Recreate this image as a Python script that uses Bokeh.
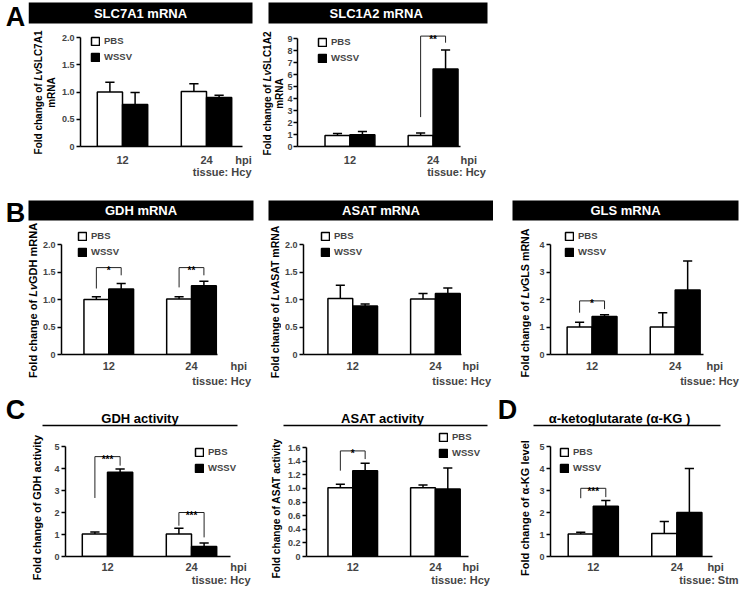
import math
from bokeh.plotting import figure
from bokeh.layouts import row, column
from bokeh.models import Range1d, FixedTicker, Legend, LegendItem, Label, LinearAxis
from bokeh.embed import file_html
from bokeh.resources import INLINE
from bokeh.core.properties import value

FONT = "Liberation Sans"

# ---------------- data ----------------
hpi_groups = ["12", "24"]
group_pos = [1, 2]
series_names = ["PBS", "WSSV"]

# A  SLC7A1 mRNA
slc7a1_pbs = [1.00, 1.01]
slc7a1_pbs_err = [0.18, 0.14]
slc7a1_wssv = [0.77, 0.90]
slc7a1_wssv_err = [0.22, 0.04]
slc7a1_sig = []

# A  SLC1A2 mRNA
slc1a2_pbs = [0.92, 0.92]
slc1a2_pbs_err = [0.17, 0.20]
slc1a2_wssv = [0.97, 6.45]
slc1a2_wssv_err = [0.27, 1.60]
# (group index, bracket top, left leg end, right leg end, stars)
slc1a2_sig = [(1, 9.2, 2.45, 8.65, "**")]

# B  GDH mRNA
gdh_pbs = [1.00, 1.01]
gdh_pbs_err = [0.05, 0.04]
gdh_wssv = [1.19, 1.25]
gdh_wssv_err = [0.10, 0.08]
gdh_sig = [(0, 1.58, 1.20, 1.44, "*"), (1, 1.58, 1.22, 1.44, "**")]

# B  ASAT mRNA
asat_pbs = [1.02, 1.01]
asat_pbs_err = [0.24, 0.10]
asat_wssv = [0.88, 1.11]
asat_wssv_err = [0.04, 0.10]
asat_sig = []

# B  GLS mRNA
gls_pbs = [1.00, 1.00]
gls_pbs_err = [0.17, 0.52]
gls_wssv = [1.38, 2.35]
gls_wssv_err = [0.07, 1.05]
gls_sig = [(0, 1.95, 1.52, 1.65, "*")]

# C  GDH activity
gdhact_pbs = [1.02, 1.02]
gdhact_pbs_err = [0.09, 0.26]
gdhact_wssv = [3.83, 0.46]
gdhact_wssv_err = [0.15, 0.15]
gdhact_sig = [(0, 4.54, 2.66, 4.13, "***"), (1, 2.00, 1.40, 0.87, "***")]

# C  ASAT activity
asatact_pbs = [1.01, 1.01]
asatact_pbs_err = [0.05, 0.04]
asatact_wssv = [1.26, 0.99]
asatact_wssv_err = [0.11, 0.31]
asatact_sig = [(0, 1.55, 1.26, 1.43, "*")]

# D  alpha-KG level
akg_pbs = [1.02, 1.04]
akg_pbs_err = [0.08, 0.55]
akg_wssv = [2.28, 2.00]
akg_wssv_err = [0.26, 2.00]
akg_sig = [(0, 3.10, 2.65, 2.70, "***")]

ticks_2 = [0, 0.5, 1.0, 1.5, 2.0]
ticks_2_labels = ["0", "0.5", "1.0", "1.5", "2.0"]
ticks_9 = [0, 1, 2, 3, 4, 5, 6, 7, 8, 9]
ticks_9_labels = ["0", "1", "2", "3", "4", "5", "6", "7", "8", "9"]
ticks_4 = [0, 1, 2, 3, 4]
ticks_4_labels = ["0", "1", "2", "3", "4"]
ticks_5 = [0, 1, 2, 3, 4, 5]
ticks_5_labels = ["0", "1", "2", "3", "4", "5"]
ticks_16 = [0, 0.2, 0.4, 0.6, 0.8, 1.0, 1.2, 1.4, 1.6]
ticks_16_labels = ["0", "0.2", "0.4", "0.6", "0.8", "1.0", "1.2", "1.4", "1.6"]

# ---------------- style helpers ----------------
BAR_W = 0.3
CAP = 0.055
K = 84.0  # pixels per group step

# Liberation Sans (Arial-metric) bold advance widths, 1/1000 em
AW = {' ': 278, '-': 333, ':': 333, '(': 333, ')': 333,
      'A': 722, 'C': 722, 'D': 722, 'F': 611, 'G': 778, 'H': 722, 'K': 722, 'L': 611,
      'N': 722, 'R': 722, 'S': 667, 'T': 611,
      'a': 556, 'c': 556, 'd': 611, 'e': 556, 'f': 333, 'g': 611, 'h': 611, 'i': 278,
      'l': 278, 'm': 889, 'n': 611, 'o': 611, 's': 556, 't': 333, 'u': 611, 'v': 556,
      'y': 556, 'α': 617}


def text_w(s, size):
    return sum(AW.get(ch, 556) for ch in s) * size / 1000.0


def noalign(f):
    if "frame_align" in f.properties():
        f.frame_align = False
    return f


def bare(w, h, flip=True):
    yr = Range1d(h, 0) if flip else Range1d(0, h)
    f = figure(width=w, height=h, x_range=Range1d(0, w), y_range=yr,
               toolbar_location=None, output_backend="svg", min_border=0,
               x_axis_location=None, y_axis_location=None)
    f.grid.visible = False
    f.outline_line_color = None
    f.background_fill_color = "white"
    f.border_fill_color = "white"
    return noalign(f)


def letter_fig(w, h, ch, x, y):
    f = bare(w, h)
    f.text(x=[x], y=[y], text=[ch], text_align="center", text_baseline="middle",
           text_font=value(FONT), text_font_style="bold", text_font_size="27px",
           text_color="black")
    return f


def header_fig(w, h, x0, x1, title, ty, bar=None, line_y=None, letter=None, tx=None):
    f = bare(w, h)
    if tx is None:
        tx = (x0 + x1) / 2.0
    if bar is not None:
        f.quad(left=[x0], right=[x1], top=[bar[0]], bottom=[bar[1]], fill_color="black",
               line_color=None)
        col = "white"
    else:
        f.segment(x0=[x0], x1=[x1], y0=[line_y], y1=[line_y], line_color="black",
                  line_width=1.5)
        col = "black"
    f.text(x=[tx], y=[ty], text=[title], text_align="center", text_baseline="middle",
           text_font=value(FONT), text_font_style="bold", text_font_size="13px",
           text_color=col)
    if letter is not None:
        lx, ly, ch = letter
        f.text(x=[lx], y=[ly], text=[ch], text_align="center", text_baseline="middle",
               text_font=value(FONT), text_font_style="bold", text_font_size="27px",
               text_color="black")
    return f


def ylab_fig(w, h, lines, size):
    # rotated y-axis title; lines = [(x centre, y centre (from bottom), [(text, style)])]
    f = bare(w, h, flip=False)
    for xc, yc, parts in lines:
        total = sum(text_w(t, size) for t, _ in parts)
        y = yc - total / 2.0
        for t, style in parts:
            f.text(x=[xc], y=[y], text=[t], angle=math.pi / 2, text_align="left",
                   text_baseline="middle", text_font=value(FONT), text_font_style=style,
                   text_font_size=f"{size}px", text_color="black")
            y += text_w(t, size)
    return f


def make_panel(box, px, ymax, pbs, pbs_err, wssv, wssv_err, sig, yticks, ylabels,
               legend_loc, tick_standoff, hpi_px, tissue_right, tissue_text, s2, s3):
    # box: figure left, right, top, bottom (page px)
    # px : axis x, first group centre, axis end, frame right, frame top, y of ymax, y of 0
    FL, FR, FT, FB = box
    L, c1, E, R, T, Ym, Y0 = px
    x_start = 1 - (c1 - L) / K
    x_end = x_start + (R - L) / K
    x_bound = 1 + (E - c1) / K
    y_end = ymax * (Y0 - T) / (Y0 - Ym)

    p = figure(width=FR - FL, height=FB - FT, x_range=Range1d(x_start, x_end),
               y_range=Range1d(0, y_end), toolbar_location=None, output_backend="svg",
               min_border_left=L - FL, min_border_right=FR - R,
               min_border_top=T - FT, min_border_bottom=FB - Y0)
    noalign(p)
    p.grid.visible = False
    p.outline_line_color = None
    p.background_fill_color = "white"
    p.border_fill_color = "white"

    xp = [g - BAR_W / 2 for g in group_pos]
    xw = [g + BAR_W / 2 for g in group_pos]
    r1 = p.vbar(x=xp, top=pbs, width=BAR_W, fill_color="white", line_color="black",
                line_width=1.5)
    r2 = p.vbar(x=xw, top=wssv, width=BAR_W, fill_color="black", line_color="black",
                line_width=1.5)
    for xs, vals, errs in ((xp, pbs, pbs_err), (xw, wssv, wssv_err)):
        tops = [v + e for v, e in zip(vals, errs)]
        p.segment(x0=xs, y0=vals, x1=xs, y1=tops, line_color="black", line_width=1.5)
        p.segment(x0=[x - CAP for x in xs], y0=tops, x1=[x + CAP for x in xs], y1=tops,
                  line_color="black", line_width=1.5)

    for gi, top, lo_l, lo_r, stars in sig:
        a, b = xp[gi], xw[gi]
        p.multi_line(xs=[[a, a, b, b]], ys=[[lo_l, top, top, lo_r]], line_color="#222222",
                     line_width=1)
        p.add_layout(Label(x=group_pos[gi], y=top, text=stars, text_align="center",
                           text_baseline="alphabetic", y_offset=-3, text_font=FONT,
                           text_font_style="bold", text_font_size="10px",
                           text_color="black"))

    ya = p.yaxis[0]
    ya.ticker = FixedTicker(ticks=yticks)
    ya.major_label_overrides = dict(zip(yticks, ylabels))
    ya.bounds = (0, ymax)
    ya.axis_line_width = 1.5
    ya.major_tick_line_width = 1.5
    ya.major_tick_out = 4
    ya.major_tick_in = 0
    ya.minor_tick_line_color = None
    ya.major_label_standoff = tick_standoff
    ya.major_label_text_font = FONT
    ya.major_label_text_font_style = "bold"
    ya.major_label_text_font_size = "9px"

    xa = p.xaxis[0]
    xa.ticker = FixedTicker(ticks=[])
    xa.bounds = (x_start, x_bound)
    xa.axis_line_width = 1.5
    xa.major_tick_line_color = None
    xa.minor_tick_line_color = None
    xa.major_tick_out = 0
    xa.major_label_standoff = 0

    hpi_x = 1 + (hpi_px - c1) / K
    ticks_g = list(group_pos) + [hpi_x]
    labs_g = list(hpi_groups) + ["hpi"]
    xa2 = LinearAxis(ticker=FixedTicker(ticks=ticks_g),
                     major_label_overrides=dict(zip(ticks_g, labs_g)),
                     axis_line_color=None, major_tick_line_color=None,
                     minor_tick_line_color=None, major_tick_out=0,
                     major_label_standoff=s2, major_label_text_font=FONT,
                     major_label_text_font_style="bold", major_label_text_font_size="11px")
    p.add_layout(xa2, "below")

    tis_x = 1 + (tissue_right - text_w(tissue_text, 11) / 2 - c1) / K
    xa3 = LinearAxis(ticker=FixedTicker(ticks=[tis_x]),
                     major_label_overrides={tis_x: tissue_text},
                     axis_line_color=None, major_tick_line_color=None,
                     minor_tick_line_color=None, major_tick_out=0,
                     major_label_standoff=s3, major_label_text_font=FONT,
                     major_label_text_font_style="bold", major_label_text_font_size="11px")
    p.add_layout(xa3, "below")

    legend = Legend(items=[LegendItem(label=value(series_names[0]), renderers=[r1]),
                           LegendItem(label=value(series_names[1]), renderers=[r2])],
                    location=legend_loc, padding=0, margin=0, spacing=5,
                    glyph_width=10, glyph_height=10, label_height=10, label_standoff=4,
                    label_text_font=FONT, label_text_font_style="bold",
                    label_text_font_size="9.5px", background_fill_alpha=0,
                    border_line_alpha=0)
    p.add_layout(legend)
    return p


B, I = "bold", "bold italic"

# ---------------- row A (y 0..196) ----------------
letterA = letter_fig(28, 196, "A", 15, 16)
hA1 = header_fig(227, 24, 0, 224, "SLC7A1 mRNA", 12.5, bar=(2, 23))
yA1 = ylab_fig(29, 172, [(9.5, 104, [("Fold change of ", B), ("Lv", I), ("SLC7A1", B)]),
                         (22.5, 104, [("mRNA", B)])], 10)
pA1 = make_panel((57, 255, 24, 196), (80, 122, 242, 255, 28, 37, 146), 2.0,
                 slc7a1_pbs, slc7a1_pbs_err, slc7a1_wssv, slc7a1_wssv_err, slc7a1_sig,
                 ticks_2, ticks_2_labels, (10, 84), 2,
                 243, 251, "tissue: Hcy", 7, -3)
hA2 = header_fig(235, 24, 13, 232, "SLC1A2  mRNA", 12.5, bar=(2, 23))
yA2 = ylab_fig(29, 172, [(11.5, 103, [("Fold change of ", B), ("Lv", I), ("SLC1A2", B)]),
                         (23.5, 103, [("mRNA", B)])], 10)
pA2 = make_panel((284, 490, 24, 196), (295, 348, 460, 490, 26, 38, 146), 9,
                 slc1a2_pbs, slc1a2_pbs_err, slc1a2_wssv, slc1a2_wssv_err, slc1a2_sig,
                 ticks_9, ticks_9_labels, (20, 83), 1,
                 468, 485, "tissue: Hcy", 7, -3)
rowA = row(letterA, column(hA1, row(yA1, pA1)), column(hA2, row(yA2, pA2)))

# ---------------- row B (y 196..392) ----------------
letterB = letter_fig(25, 196, "B", 15, 16)
hB1 = header_fig(230, 26, 3, 228, "GDH mRNA", 14, bar=(4, 24))
yB1 = ylab_fig(14, 170, [(7.5, 92, [("Fold change of ", B), ("Lv", I), ("GDH mRNA", B)])], 11)
pB1 = make_panel((39, 255, 222, 392), (58, 106, 216, 255, 226, 244, 354), 2.0,
                 gdh_pbs, gdh_pbs_err, gdh_wssv, gdh_wssv_err, gdh_sig,
                 ticks_2, ticks_2_labels, (16, 97), 2,
                 238, 250, "tissue: Hcy", 5, 0)
hB2 = header_fig(238, 26, 13, 238, "ASAT mRNA", 14, bar=(4, 24))
yB2 = ylab_fig(26, 170, [(19, 91, [("Fold change of ", B), ("Lv", I), ("ASAT mRNA", B)])],
               10.5)
pB2 = make_panel((281, 493, 222, 392), (300, 350, 460, 493, 226, 244, 354), 2.0,
                 asat_pbs, asat_pbs_err, asat_wssv, asat_wssv_err, asat_sig,
                 ticks_2, ticks_2_labels, (17, 97), 2,
                 470, 490, "tissue: Hcy", 5, 0)
hB3 = header_fig(247, 26, 19, 245, "GLS mRNA", 14, bar=(4, 24))
yB3 = ylab_fig(43, 170, [(31, 89.5, [("Fold change of ", B), ("Lv", I), ("GLS mRNA", B)])],
               10.7)
pB3 = make_panel((536, 740, 222, 392), (548, 590, 703, 740, 226, 244, 354), 4,
                 gls_pbs, gls_pbs_err, gls_wssv, gls_wssv_err, gls_sig,
                 ticks_4, ticks_4_labels, (14, 97), 2,
                 714, 738, "tissue: Hcy", 5, 0)
rowB = row(letterB, column(hB1, row(yB1, pB1)), column(hB2, row(yB2, pB2)),
           column(hB3, row(yB3, pB3)))

# ---------------- row C / D (y 392..590) ----------------
hC1 = header_fig(255, 38, 42, 237, "GDH activity", 26, line_y=33, letter=(15, 17, "C"))
yC1 = ylab_fig(50, 160, [(36, 83, [("Fold change of GDH activity", B)])], 10.9)
pC1 = make_panel((50, 255, 430, 590), (65, 107, 230, 255, 430, 446, 556), 5,
                 gdhact_pbs, gdhact_pbs_err, gdhact_wssv, gdhact_wssv_err, gdhact_sig,
                 ticks_5, ticks_5_labels, (129, 83), 2,
                 238, 250, "tissue: Hcy", 4, -2)
hC2 = header_fig(235, 38, 28, 232, "ASAT activity", 26, line_y=33, tx=127)
yC2 = ylab_fig(29, 160, [(21, 82.5, [("Fold change of ASAT activity", B)])], 10.2)
pC2 = make_panel((284, 490, 430, 590), (303, 350, 468, 490, 430, 447, 556), 1.6,
                 asatact_pbs, asatact_pbs_err, asatact_wssv, asatact_wssv_err,
                 asatact_sig, ticks_16, ticks_16_labels, (132, 98), 2,
                 470, 489, "tissue: Hcy", 4, -2)
hD = header_fig(250, 38, 43, 230, "α-ketoglutarate (α-KG )", 26, line_y=33, tx=129,
                letter=(17, 17, "D"))
yD = ylab_fig(46, 160, [(34, 82.5, [("Fold change of α-KG level", B)])], 11)
pD = make_panel((536, 740, 430, 590), (549, 592, 712, 740, 430, 446, 556), 5,
                akg_pbs, akg_pbs_err, akg_wssv, akg_wssv_err, akg_sig,
                ticks_5, ticks_5_labels, (9, 83), 2,
                715, 738, "tissue: Stm", 4, -2)
rowC = row(column(hC1, row(yC1, pC1)), column(hC2, row(yC2, pC2)), column(hD, row(yD, pD)))

page = column(rowA, rowB, rowC)

open("out.html", "w").write(file_html(page, INLINE))
